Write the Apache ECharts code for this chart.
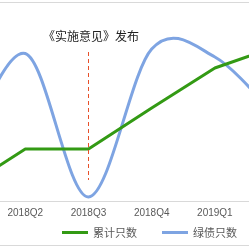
<!DOCTYPE html>
<html><head><meta charset="utf-8">
<script src="https://cdn.jsdelivr.net/npm/echarts@6/dist/echarts.min.js"></script>
<style>html,body{margin:0;padding:0;background:#fff}#c{width:249px;height:249px}</style>
</head><body><div id="c"></div>
<script>
var categories = ['2018Q1','2018Q2','2018Q3','2018Q4','2019Q1','2019Q2'];
var cumulativeCount = [11.5, 52, 52, 93, 133, 155];
var greenBondCount = [42, 147.5, 4, 152, 144, 82];
var eventCategory = 2; // index of 2018Q3
var eventLabel = '《实施意见》发布';
var seriesNames = ['累计只数', '绿债只数'];

function pairs(arr){ return arr.map(function(v,i){ return [i, v]; }); }

// Excel-like smoothed line (Catmull-Rom, 1/6 control distance) through the library's coordinate system
function renderSmooth(params, api){
  if (params.dataIndex !== 0) return null;
  var pts = greenBondCount.map(function(v,i){ return api.coord([i, v]); });
  var n = pts.length;
  var d = 'M' + pts[0][0] + ' ' + pts[0][1];
  for (var i = 0; i < n - 1; i++){
    var p0 = pts[Math.max(i-1,0)], p1 = pts[i], p2 = pts[i+1], p3 = pts[Math.min(i+2,n-1)];
    var c1x = p1[0] + (p2[0]-p0[0])/6, c1y = p1[1] + (p2[1]-p0[1])/6;
    var c2x = p2[0] - (p3[0]-p1[0])/6, c2y = p2[1] - (p3[1]-p1[1])/6;
    d += ' C' + c1x + ' ' + c1y + ' ' + c2x + ' ' + c2y + ' ' + p2[0] + ' ' + p2[1];
  }
  return {type:'path', shape:{pathData:d}, style:{fill:null, stroke:'#7ea4e2', lineWidth:3, lineJoin:'round'}};
}

var chart = echarts.init(document.getElementById('c'), null, {renderer:'canvas'});
chart.setOption({
  animation:false,
  textStyle:{fontFamily:'Liberation Sans, "Noto Sans CJK SC", sans-serif'},
  grid:{left:0, right:0, top:1, bottom:48, containLabel:false},
  xAxis:{type:'value', min:0.6, max:4.54,
    splitLine:{show:false},
    axisLine:{onZero:false, lineStyle:{color:'#d9d9d9', width:1}},
    axisTick:{show:false},
    axisLabel:{customValues:[1,2,3,4],
      formatter:function(v){ return categories[Math.round(v)]; },
      color:'#595959', fontSize:10, margin:7, fontFamily:'Liberation Sans'}},
  yAxis:{type:'value', min:0, max:200, show:false, splitLine:{show:false}},
  legend:{bottom:6, left:57, itemWidth:26, itemHeight:3, itemGap:25,
    icon:'rect',
    textStyle:{color:'#595959', fontSize:11, fontFamily:'"Noto Sans CJK SC", sans-serif'},
    data:seriesNames},
  graphic:[
    {type:'line', shape:{x1:0,y1:2.5,x2:249,y2:2.5}, style:{stroke:'#d9d9d9', lineWidth:1}},
    {type:'line', shape:{x1:0,y1:245.5,x2:249,y2:245.5}, style:{stroke:'#d9d9d9', lineWidth:1}},
    {type:'text', left:43, top:30, style:{text:eventLabel, fill:'#222', fontSize:12, fontFamily:'"Noto Sans CJK SC", sans-serif'}}
  ],
  series:[
    {name:seriesNames[0], type:'line', data:pairs(cumulativeCount), symbol:'none', smooth:false,
      lineStyle:{color:'#339a14', width:3}, itemStyle:{color:'#339a14'},
      markLine:{symbol:'none', silent:true, label:{show:false},
        lineStyle:{color:'#e8502a', type:[4,3], width:1},
        data:[[{coord:[eventCategory,149]},{coord:[eventCategory,21]}]]}},
    {name:seriesNames[1], type:'custom', data:pairs(greenBondCount), renderItem:renderSmooth,
      clip:true, itemStyle:{color:'#7ea4e2'}}
  ]
});
</script></body></html>
